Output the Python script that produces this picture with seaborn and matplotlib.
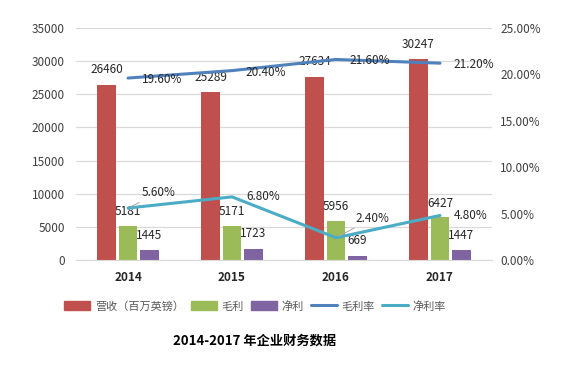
import numpy as np
import pandas as pd
import matplotlib
matplotlib.use('Agg')
import matplotlib.pyplot as plt
import seaborn as sns
from matplotlib.patches import Patch
from matplotlib.lines import Line2D

years = ['2014', '2015', '2016', '2017']
revenue = [26460, 25289, 27634, 30247]
gross_profit = [5181, 5171, 5956, 6427]
net_profit = [1445, 1723, 669, 1447]
gross_margin = [19.6, 20.4, 21.6, 21.2]
net_margin = [5.6, 6.8, 2.4, 4.8]

bar_names = ['营收（百万英镑）', '毛利', '净利']
line_names = ['毛利率', '净利率']
bar_colors = ['#C0504D', '#9BBB59', '#8064A2']
line_colors = ['#4F81BD', '#4BACC6']

sns.set_style('white')
plt.rcParams['font.family'] = ['Noto Sans CJK SC', 'DejaVu Sans']

#long-form table for the grouped bars
df = pd.DataFrame({
    'year': years * 3,
    'metric': [n for n in bar_names for _ in years],
    'value': revenue + gross_profit + net_profit,
})

fig = plt.figure(figsize=(5.85, 3.72), dpi=100)
ax = fig.add_axes([0.13, 0.301, 0.711, 0.624])
sns.barplot(data=df, x='year', y='value', hue='metric', palette=bar_colors,
            width=0.62, gap=0.15, ax=ax, legend=False, saturation=1,
            linewidth=0, edgecolor='none')
ax.set_ylim(0, 35000)
ax.set_yticks(range(0, 35001, 5000))
ax.set_xlim(-0.5, 3.5)
ax.set_xlabel('')
ax.set_ylabel('')
ax.yaxis.grid(True, color='#D9D9D9', linewidth=0.9)
ax.set_axisbelow(True)
for s in ['top', 'right', 'left']:
    ax.spines[s].set_visible(False)
ax.spines['bottom'].set_color('#D9D9D9')
ax.tick_params(axis='y', length=0, labelsize=8.5, labelcolor='#404040', pad=8)
ax.tick_params(axis='x', length=0, labelsize=8.5, pad=8)
for t in ax.get_xticklabels():
    t.set_fontweight('bold')

#value labels on the bars
offsets = [11, 10, 11]
for cont, off in zip(ax.containers, offsets):
    for rect in cont:
        h = rect.get_height()
        ax.annotate('%d' % h, (rect.get_x() + rect.get_width() / 2, h),
                    xytext=(0, off), textcoords='offset points',
                    ha='center', va='center', fontsize=8.5, color='#262626')

ax2 = ax.twinx()
xs = np.arange(len(years))
sns.lineplot(x=xs, y=gross_margin, color=line_colors[0], linewidth=2.2, ax=ax2)
sns.lineplot(x=xs, y=net_margin, color=line_colors[1], linewidth=2.2, ax=ax2)
ax2.set_ylim(0, 25)
ax2.set_yticks(range(0, 26, 5))
ax2.set_yticklabels(['%.2f%%' % v for v in range(0, 26, 5)])
ax2.tick_params(axis='y', length=0, labelsize=8.5, labelcolor='#404040', pad=6)
for s in ax2.spines.values():
    s.set_visible(False)

for x, v in zip(xs, gross_margin):
    ax2.annotate('%.2f%%' % v, (x, v), xytext=(10, -1), textcoords='offset points',
                 ha='left', va='center', fontsize=8.5, color='#262626')

net_offs = [(10, 11), (10, 0), (14, 14), (10, 0)]
for x, v, off in zip(xs, net_margin, net_offs):
    arrow = None
    if off[1] > 5:
        arrow = dict(arrowstyle='-', color='#A6A6A6', lw=0.7, shrinkA=0, shrinkB=2)
    ax2.annotate('%.2f%%' % v, (x, v), xytext=off, textcoords='offset points',
                 ha='left', va='center', fontsize=8.5, color='#262626',
                 arrowprops=arrow)

#legend from both axes
handles = [Patch(color=c) for c in bar_colors] + \
          [Line2D([0], [0], color=c, lw=2.2) for c in line_colors]
fig.legend(handles, bar_names + line_names, loc='center', ncol=5,
           bbox_to_anchor=(0.436, 0.177), frameon=False, fontsize=8,
           labelcolor='#595959', handlelength=2.4, handleheight=0.8,
           columnspacing=0.6, handletextpad=0.4)

fig.text(0.436, 0.083, '2014-2017 年企业财务数据', ha='center', va='center',
         fontsize=9.5, fontweight='bold', color='black')

fig.savefig('out.png', dpi=100)
